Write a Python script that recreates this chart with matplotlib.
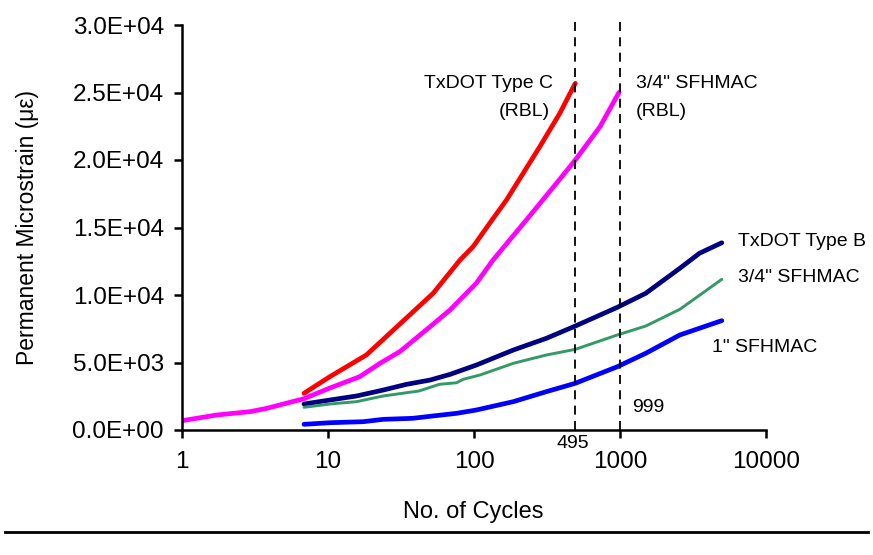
import numpy as np
import matplotlib
matplotlib.use('Agg')
import matplotlib.pyplot as plt
from matplotlib.ticker import FuncFormatter, FixedLocator, NullLocator

plt.rcParams['font.family'] = ['Liberation Sans', 'DejaVu Sans']

# cycles / permanent microstrain
type_c_x = [6.85, 10.3, 18.3, 26.5, 52.5, 80.2, 98.6, 128, 167, 282, 387, 494]
type_c_y = [2720, 3950, 5555, 7160, 10125, 12590, 13580, 15310, 17040, 20980, 23460, 25680]

sfh34_rbl_x = [1, 1.73, 2.92, 3.8, 4.94, 6.77, 10.3, 16.5, 22.7, 31, 50, 68.5, 103.7,
               135, 228, 367, 494, 730, 985]
sfh34_rbl_y = [690, 1110, 1360, 1600, 1925, 2300, 3110, 3950, 4940, 5800, 7650, 8890, 10870,
               12590, 15550, 18270, 20000, 22470, 25010]

type_b_x = [6.85, 10.3, 15.7, 23.9, 34.4, 50, 68.5, 103.7, 186, 313, 494, 960, 1500,
            2570, 3500, 4980]
type_b_y = [1925, 2220, 2520, 2960, 3380, 3700, 4120, 4810, 5925, 6790, 7700, 9090, 10125,
            11980, 13090, 13870]

sfh34_x = [6.85, 10.3, 15.7, 23.9, 42, 58, 76, 84.3, 110, 186, 313, 494, 960, 1500,
           2570, 4980]
sfh34_y = [1680, 1925, 2100, 2520, 2890, 3385, 3500, 3755, 4075, 4940, 5555, 5975, 7040, 7700,
           8940, 11160]

sfh1_x = [6.85, 10.3, 17.4, 23.9, 38, 52.5, 76, 103.7, 186, 313, 494, 960, 1500, 2570, 4980]
sfh1_y = [420, 540, 615, 790, 865, 1040, 1235, 1480, 2100, 2840, 3460, 4690, 5680, 7040, 8100]

x_ticks = [1, 10, 100, 1000, 10000]
y_ticks = [0, 5000, 10000, 15000, 20000, 25000, 30000]
marks = [495, 999]

W, H = 873, 555
fig = plt.figure(figsize=(W / 100, H / 100), dpi=100)
ax = fig.add_axes([182 / W, 1 - 430 / H, 584 / W, 405 / H])

ax.plot(type_b_x, type_b_y, color='#000080', lw=3.4, solid_capstyle='round', solid_joinstyle='round')
ax.plot(sfh34_x, sfh34_y, color='#339966', lw=2.1, solid_capstyle='round', solid_joinstyle='round')
ax.plot(sfh1_x, sfh1_y, color='#0000FF', lw=3.4, solid_capstyle='round', solid_joinstyle='round')
ax.plot(sfh34_rbl_x, sfh34_rbl_y, color='#FF00FF', lw=3.4, solid_capstyle='round', solid_joinstyle='round')
ax.plot(type_c_x, type_c_y, color='#FF0000', lw=3.4, solid_capstyle='round', solid_joinstyle='round')

for m in marks:
    ax.axvline(m, ymin=0, ymax=1.012, color='black', lw=1.3, dashes=(5, 3.5), clip_on=False)

ax.set_xscale('log')
ax.set_xlim(1, 10000)
ax.set_ylim(0, 30000)
ax.xaxis.set_major_locator(FixedLocator(x_ticks))
ax.xaxis.set_minor_locator(NullLocator())
ax.set_xticklabels([str(t) for t in x_ticks])
ax.set_yticks(y_ticks)
ax.yaxis.set_major_formatter(FuncFormatter(lambda v, p: '%.1E' % v))

for s in ['top', 'right']:
    ax.spines[s].set_visible(False)
for s in ['left', 'bottom']:
    ax.spines[s].set_linewidth(1.8)
ax.tick_params(axis='both', direction='out', length=6, width=1.8, labelsize=17.5)
ax.tick_params(axis='x', pad=9)
ax.tick_params(axis='y', pad=7)

ax.set_xlabel('No. of Cycles', fontsize=17)
ax.set_ylabel('Permanent Microstrain (\u03bc\u03b5)', fontsize=16.5)
ax.xaxis.set_label_coords(0.498, (430 - 512) / 405)
ax.yaxis.set_label_coords((28 - 182) / 584, 0.5)
ax.xaxis.label.set_va('center')
ax.yaxis.label.set_va('center')


def note(px, py, s, ha):
    fig.text(px / W, 1 - py / H, s, fontsize=14, ha=ha, va='center')


note(553, 83, 'TxDOT Type C', 'right')
note(550, 111, '(RBL)', 'right')
note(636, 83, '3/4" SFHMAC', 'left')
note(636, 111, '(RBL)', 'left')
note(738, 242, 'TxDOT Type B', 'left')
note(738, 277, '3/4" SFHMAC', 'left')
note(712, 348, '1" SFHMAC', 'left')
note(573, 443, '495', 'center')
note(632, 407, '999', 'left')

fig.add_artist(plt.Line2D([0.006, 0.994], [1 - 532 / H, 1 - 532 / H],
                          color='black', lw=2.0, transform=fig.transFigure))

fig.savefig('out.png', dpi=100)
